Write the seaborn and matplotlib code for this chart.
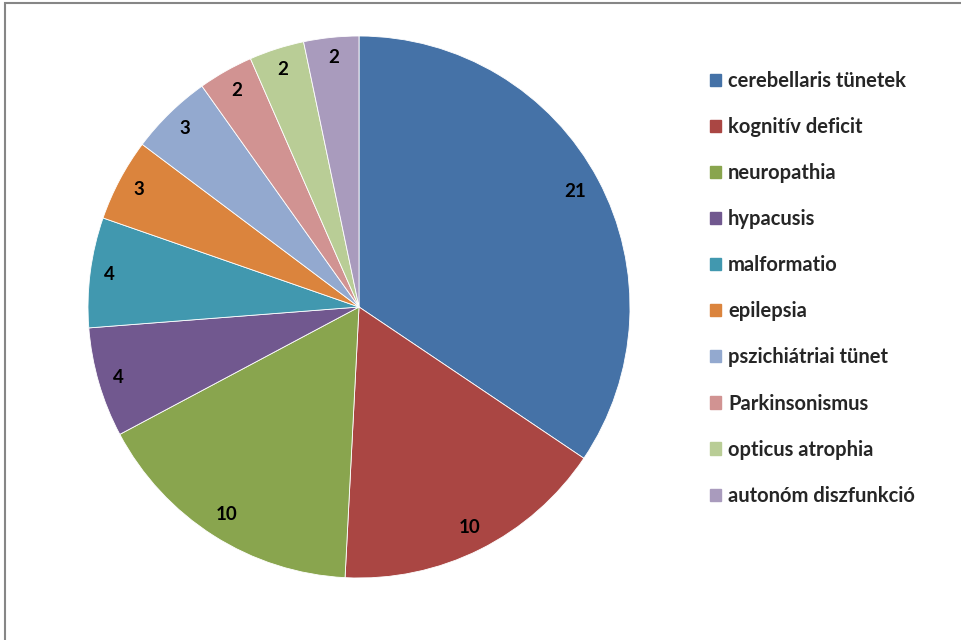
import matplotlib
matplotlib.use("Agg")
import matplotlib.pyplot as plt
from matplotlib.patches import Patch, Rectangle
import numpy as np
import seaborn as sns

categories = [
    "cerebellaris tünetek", "kognitív deficit", "neuropathia", "hypacusis",
    "malformatio", "epilepsia", "pszichiátriai tünet", "Parkinsonismus",
    "opticus atrophia", "autonóm diszfunkció",
]
counts = [21, 10, 10, 4, 4, 3, 3, 2, 2, 2]
colors = ["#4572A7", "#AA4643", "#89A54E", "#71588F", "#4198AF",
          "#DB843D", "#93A9CF", "#D19392", "#B9CD96", "#A99BBD"]

sns.set_theme(style="white")
plt.rcParams["font.family"] = ["Lato", "DejaVu Sans"]

fig = plt.figure(figsize=(9.62, 6.4), dpi=100)
W, H = 962, 640
cx, cy, r = 359, 307, 271
ax = fig.add_axes([(cx - r) / W, (H - cy - r) / H, 2 * r / W, 2 * r / H])

wedges, _ = ax.pie(
    counts, colors=colors, startangle=90, counterclock=False,
    wedgeprops=dict(edgecolor="white", linewidth=0.6),
)

# value labels placed just inside the rim ("inside end")
pad_px, char_w, half_h = 13, 5.5, 7.0
for w, v in zip(wedges, counts):
    mid = np.deg2rad((w.theta1 + w.theta2) / 2)
    c, s = np.cos(mid), np.sin(mid)
    extent = abs(c) * char_w * len(str(v)) + abs(s) * half_h
    d = (r - pad_px - extent) / r
    ax.text(d * c, d * s, str(v), ha="center", va="center",
            fontsize=13.5, fontweight="bold", color="black")
ax.set_xlim(-1, 1)
ax.set_ylim(-1, 1)
ax.set_aspect("equal")
ax.axis("off")

handles = [Patch(facecolor=c, edgecolor=c) for c in colors]
fig.legend(
    handles, categories, loc="upper left",
    bbox_to_anchor=(710 / W, 1 - 71 / H), frameon=False,
    prop=dict(family="Lato", weight="bold", size=14.5),
    handlelength=0.55, handleheight=0.55, handletextpad=0.35,
    labelspacing=1.295, borderaxespad=0, borderpad=0,
)

# outer frame of the chart area
fig.add_artist(Rectangle((5 / W, -0.01), 1.0, 1 - 3 / H + 0.01,
                         transform=fig.transFigure, fill=False,
                         edgecolor="#868686", linewidth=1.5))

fig.savefig("out.png", dpi=100)
